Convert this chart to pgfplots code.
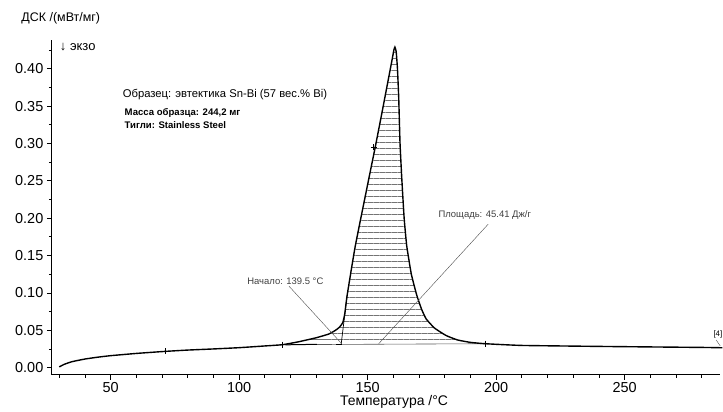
\documentclass[border=0pt]{standalone}
\usepackage{fontspec}
\setmainfont{Liberation Sans}
\usepackage{pgfplots}
\pgfplotsset{compat=1.18}
\usepgfplotslibrary{fillbetween}
\usetikzlibrary{patterns.meta}
\begin{document}
\begin{tikzpicture}
\begin{axis}[
  name=ax,
  scale only axis,
  width=671pt, height=336pt,
  xmin=27.1, xmax=287.2,
  ymin=-0.0093, ymax=0.4387,
  axis x line*=bottom, axis y line*=left,
  axis line style={line width=1.1pt},
  xtick={50,100,150,200,250},
  minor xtick={30,40,60,70,80,90,110,120,130,140,160,170,180,190,210,220,230,240,260,270,280},
  ytick={0,0.05,0.10,0.15,0.20,0.25,0.30,0.35,0.40},
  minor ytick={0.025,0.075,0.125,0.175,0.225,0.275,0.325,0.375,0.425},
  tick align=outside,
  major tick length=5pt, minor tick length=3pt,
  tick style={black, line width=0.8pt},
  /pgf/number format/assume math mode=true,
  xticklabel style={font=\fontsize{14.5}{14.5}\selectfont, yshift=1pt},
  yticklabel style={font=\fontsize{14.5}{14.5}\selectfont, /pgf/number format/.cd, fixed, fixed zerofill, precision=2},
  xlabel={Температура /°C},
  xlabel style={font=\fontsize{14}{14}\selectfont, at={(rel axis cs:0.5,0)}, anchor=center, yshift=-27pt, xshift=8pt},
  ylabel={ДСК /(мВт/мг)},
  ylabel style={font=\fontsize{12.5}{12.5}\selectfont, rotate=-90, at={(rel axis cs:0,1)}, anchor=west, xshift=-34pt, yshift=22pt},
  clip=false,
]
% baseline for integration
\addplot[name path=base, draw=gray!70!black, line width=0.6pt] coordinates {(116.9,0.0307) (195.7,0.0320)};
% DSC curve
\addplot[name path=curve, black, line width=1.4pt, smooth, tension=0.25] coordinates {
(30,0.001) (32,0.0045) (35,0.008) (40,0.0115) (45,0.014) (50,0.016) (60,0.019) (71,0.0217)
(80,0.0235) (90,0.025) (100,0.0267) (110,0.0290) (116.9,0.0307) (123,0.0345) (130,0.0400)
(134.9,0.0450) (137.5,0.0500) (139,0.0540) (140.3,0.0600) (141.1,0.0720) (142,0.0964)
(145.2,0.163) (150.4,0.252) (153,0.296) (155.5,0.340) (158,0.385) (159.5,0.412)
(160.2,0.425) (160.6,0.429) (161.1,0.423) (161.6,0.400) (162.1,0.360) (162.6,0.300)
(163.3,0.252) (164.2,0.200) (165.2,0.163) (167,0.125) (169.1,0.097) (171,0.078)
(172.8,0.065) (176,0.053) (180.5,0.043) (185,0.037) (190,0.0338) (195.7,0.0320)
(210,0.0297) (240,0.0284) (260,0.0277) (281,0.0270) (288,0.0266)
};
\addplot[pattern={Lines[angle=0,distance=6pt,line width=0.9pt]}, pattern color=black!55, draw=none]
  fill between[of=curve and base, soft clip={domain=116.9:195.7}];
% extrapolated baseline segments and onset tangent
\addplot[black, line width=1pt] coordinates {(118,0.0305) (130.2,0.0312)};
\addplot[black, line width=1pt] coordinates {(137.8,0.0315) (140,0.0315)};
\addplot[black, line width=0.7pt] coordinates {(139.7,0.0315) (142,0.0964)};
% marks
\addplot[only marks, mark=+, mark size=3pt, black, line width=0.6pt] coordinates {(71.3,0.0217) (116.9,0.0307) (195.7,0.0320) (152.3,0.295)};
% annotation leader lines
\addplot[gray!60!black, line width=0.4pt] coordinates {(119.4,0.109) (139.9,0.032)};
\addplot[gray!60!black, line width=0.4pt] coordinates {(196.9,0.192) (154.3,0.032)};
\addplot[gray!60!black, line width=0.4pt] coordinates {(285.6,0.037) (287.2,0.029)};
% texts
\node[anchor=west, inner sep=0pt, font=\fontsize{13}{13}\selectfont] at (axis cs:30.2,0.429) {↓ экзо};
\node[anchor=west, inner sep=0pt, font=\fontsize{11.3}{11.3}\selectfont] at (axis cs:54.65,0.365) {Образец: эвтектика Sn-Bi (57 вес.\% Bi)};
\node[anchor=west, inner sep=0pt, font=\bfseries\fontsize{9.6}{9.6}\selectfont] at (axis cs:55.4,0.341) {Масса образца: 244,2 мг};
\node[anchor=west, inner sep=0pt, font=\bfseries\fontsize{9.6}{9.6}\selectfont] at (axis cs:55.4,0.325) {Тигли: Stainless Steel};
\node[anchor=west, inner sep=0pt, font=\fontsize{9.5}{9.5}\selectfont, text=black!75] at (axis cs:103.1,0.116) {Начало: 139.5 °C};
\node[anchor=west, inner sep=0pt, font=\fontsize{9.5}{9.5}\selectfont, text=black!75] at (axis cs:177.5,0.204) {Площадь: 45.41 Дж/г};
\node[anchor=west, inner sep=0pt, font=\fontsize{8}{8}\selectfont] at (axis cs:284.5,0.044) {[4]};
\end{axis}
\path[use as bounding box] ([shift={(-52pt,-34pt)}]ax.south west) rectangle ([shift={(0pt,40pt)}]ax.north east);
\end{tikzpicture}
\end{document}
